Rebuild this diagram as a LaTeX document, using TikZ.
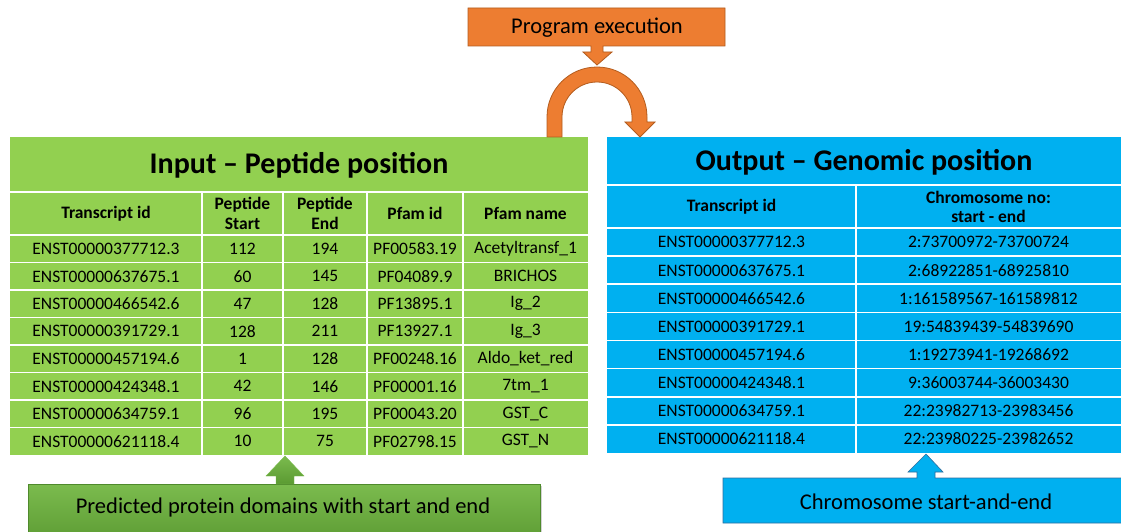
\documentclass[tikz,border=0pt]{standalone}
\usepackage{fontspec}
\setmainfont{Carlito}
\usetikzlibrary{shadows}
\definecolor{tgreen}{HTML}{92D050}
\definecolor{tblue}{HTML}{00B0F0}
\definecolor{torange}{HTML}{ED7D31}
\definecolor{torangedk}{HTML}{B35C1E}
\definecolor{cgreenA}{HTML}{7BBB4E}
\definecolor{cgreenB}{HTML}{5B9A32}
\definecolor{cgreendk}{HTML}{4F8A2C}
\definecolor{cbluedk}{HTML}{2E6E9E}
\tikzset{
  cell/.style={font=\fontsize{17.5}{19.5}\selectfont, align=center, inner sep=0pt},
  head/.style={cell, font=\fontsize{17.5}{19.5}\selectfont\bfseries},
  ttl/.style={font=\fontsize{30}{34}\selectfont\bfseries, inner sep=0pt},
  sep/.style={white, line width=1.6pt},
  calltext/.style={font=\fontsize{22.5}{26}\selectfont, inner sep=0pt},
}
\begin{document}
\begin{tikzpicture}[x=1pt,y=-1pt]
\useasboundingbox (0,0) rectangle (1121,532);

% ---------- input table ----------
\fill[tgreen] (10,137) rectangle (588,455);
\draw[sep] (10,192) -- (588,192);
\foreach \y in {235,262.5,290,317.5,345,372.5,400,427.5} \draw[sep] (10,\y) -- (588,\y);
\foreach \x in {202,283,367,463} \draw[sep] (\x,192) -- (\x,455);
\node[ttl] (inTitle) at (299,165) {Input – Peptide position};
\node[head] (inH1) at (106,213.5) {Transcript id};
\node[head] (inH2) at (242.5,213.5) {Peptide\\Start};
\node[head] (inH3) at (325,213.5) {Peptide\\End};
\node[head] (inH4) at (415,213.5) {Pfam id};
\node[head] (inH5) at (525.5,213.5) {Pfam name};
\foreach \t/\s/\e/\p/\n [count=\i] in {
  ENST00000377712.3/112/194/PF00583.19/Acetyltransf\_1,
  ENST00000637675.1/60/145/PF04089.9/BRICHOS,
  ENST00000466542.6/47/128/PF13895.1/Ig\_2,
  ENST00000391729.1/128/211/PF13927.1/Ig\_3,
  ENST00000457194.6/1/128/PF00248.16/Aldo\_ket\_red,
  ENST00000424348.1/42/146/PF00001.16/7tm\_1,
  ENST00000634759.1/96/195/PF00043.20/GST\_C,
  ENST00000621118.4/10/75/PF02798.15/GST\_N}{
  \pgfmathsetmacro{\yy}{235+27.5*(\i-1)+13.75}
  \node[cell] (in\i a) at (106,\yy) {\t};
  \node[cell] (in\i b) at (242.5,\yy) {\s};
  \node[cell] (in\i c) at (325,\yy) {\e};
  \node[cell] (in\i d) at (415,\yy) {\p};
  \node[cell] (in\i e) at (525.5,\yy) {\n};
}

% ---------- output table ----------
\fill[tblue] (607,137) rectangle (1121,453);
\draw[sep] (607,185) -- (1121,185);
\foreach \y in {228,256.125,284.25,312.375,340.5,368.625,396.75,424.875} \draw[sep] (607,\y) -- (1121,\y);
\draw[sep] (856,185) -- (856,453);
\node[ttl] (outTitle) at (864,162) {Output – Genomic position};
\node[head] (outH1) at (731.5,207) {Transcript id};
\node[head] (outH2) at (988.5,207) {Chromosome no:\\start - end};
\foreach \t/\c [count=\i] in {
  ENST00000377712.3/2:73700972-73700724,
  ENST00000637675.1/2:68922851-68925810,
  ENST00000466542.6/1:161589567-161589812,
  ENST00000391729.1/19:54839439-54839690,
  ENST00000457194.6/1:19273941-19268692,
  ENST00000424348.1/9:36003744-36003430,
  ENST00000634759.1/22:23982713-23983456,
  ENST00000621118.4/22:23980225-23982652}{
  \pgfmathsetmacro{\yy}{228+28.125*(\i-1)+14.06}
  \node[cell] (out\i a) at (731.5,\yy) {\t};
  \node[cell] (out\i b) at (988.5,\yy) {\c};
}

% ---------- program execution callout ----------
\filldraw[fill=torange, draw=torangedk, line width=0.8pt]
  (468,8) -- (725,8) -- (725,46) -- (603,46) -- (603,52) -- (612,52)
  -- (597,65) -- (583,52) -- (591,52) -- (591,46) -- (468,46) -- cycle;
\node[calltext] (prog) at (597,27.5) {Program execution};

% curved arrow from input table to output table
\filldraw[fill=torange, draw=torangedk, line width=0.8pt]
  (547,137) -- (547,117) arc[start angle=180, end angle=360, radius=50]
  -- (647,122) -- (655,122) -- (640,137) -- (625,122) -- (632,122) -- (632,117)
  arc[start angle=360, end angle=180, radius=35] -- (562,137) -- cycle;

% ---------- predicted domains callout ----------
\shade[top color=cgreenA, bottom color=cgreenB, draw=cgreendk, line width=0.6pt,
       drop shadow={opacity=0.35, shadow xshift=2pt, shadow yshift=-2pt}]
  (28,484) rectangle (540,545);
\shade[top color=cgreenA, bottom color=cgreenB, draw=cgreenA, line width=0.4pt]
  (285,456) -- (304,476) -- (294,476) -- (294,484) -- (276,484) -- (276,476) -- (266,476) -- cycle;
\node[calltext] (pred) at (283,507.5) {Predicted protein domains with start and end};

% ---------- chromosome callout ----------
\filldraw[fill=tblue, draw=cbluedk, line width=0.6pt]
  (723,478) -- (917,478) -- (917,472) -- (908,472) -- (926,454) -- (943,472)
  -- (935,472) -- (935,478) -- (1125,478) -- (1125,523) -- (723,523) -- cycle;
\node[calltext] (chrom) at (926,501.5) {Chromosome start-and-end};
\end{tikzpicture}
\end{document}
